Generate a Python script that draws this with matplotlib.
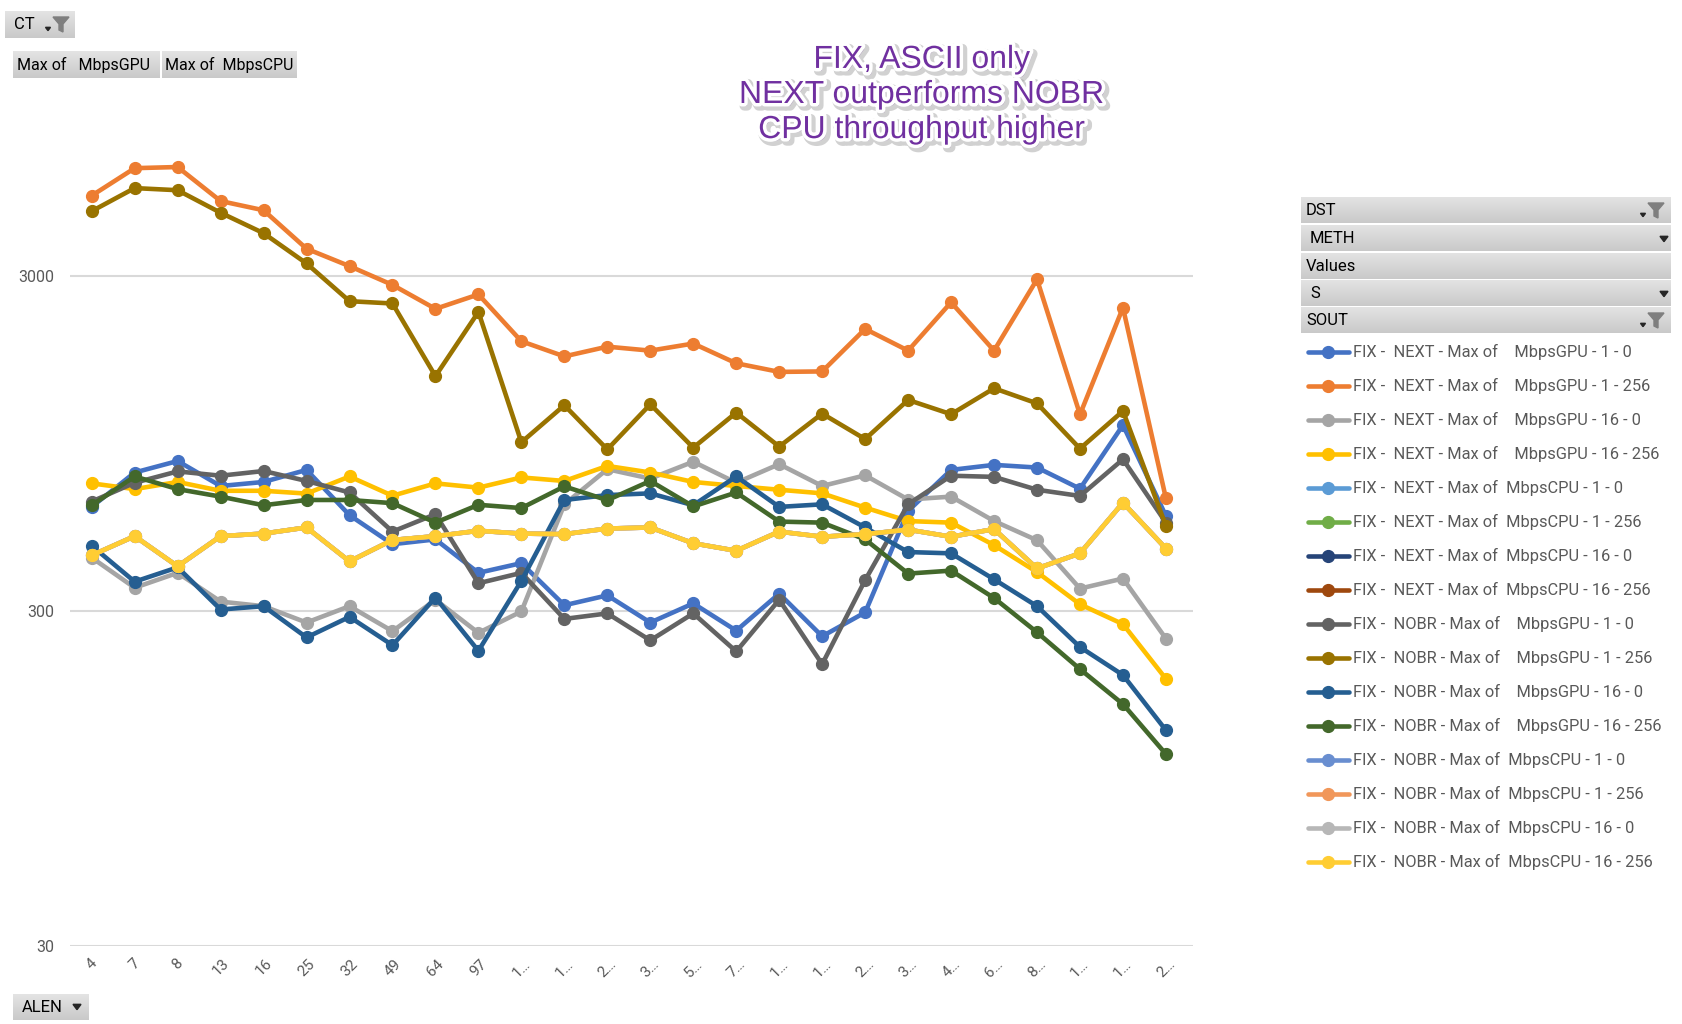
import matplotlib
matplotlib.use("Agg")
import matplotlib.pyplot as plt
import matplotlib.patheffects as pe
from matplotlib.patches import Polygon
from matplotlib.lines import Line2D
import numpy as np

W, H = 1682, 1024

alen_labels = ["4", "7", "8", "13", "16", "25", "32", "49", "64", "97",
               "1…", "1…", "2…", "3…", "5…", "7…", "1…", "1…", "2…", "3…",
               "4…", "6…", "8…", "1…", "1…", "2…"]

# Mbps
next_gpu_1_0 = [614, 778, 842, 709, 729, 792, 580, 475, 491, 390, 417, 312, 334,
                277, 316, 262, 338, 252, 297, 597, 792, 820, 805, 696, 1078, 577]
next_gpu_1_256 = [5230, 6320, 6370, 5040, 4730, 3630, 3220, 2830, 2400, 2650, 1920,
                  1730, 1850, 1800, 1890, 1650, 1555, 1560, 2090, 1800, 2510, 1800,
                  2940, 1160, 2420, 651]
next_gpu_16_0 = [433, 352, 390, 320, 310, 277, 310, 261, 324, 258, 299, 625, 796,
                 746, 838, 725, 824, 709, 763, 646, 659, 557, 488, 350, 375, 248]
next_gpu_16_256 = [722, 694, 729, 686, 686, 673, 757, 663, 722, 701, 752, 734, 814,
                   778, 729, 709, 691, 674, 611, 557, 551, 472, 392, 314, 274, 188]
nobr_gpu_1_0 = [637, 725, 784, 761, 786, 734, 678, 518, 584, 363, 390, 284, 295,
                245, 295, 227, 324, 208, 371, 625, 761, 755, 691, 662, 852, 551]
nobr_gpu_1_256 = [4700, 5510, 5430, 4650, 4040, 3280, 2530, 2490, 1510, 2350, 958,
                  1236, 912, 1244, 923, 1175, 930, 1167, 979, 1282, 1162, 1389, 1252,
                  917, 1188, 539]
nobr_gpu_16_0 = [470, 367, 405, 303, 310, 250, 288, 237, 329, 228, 369, 644, 666,
                 674, 621, 757, 614, 625, 533, 450, 446, 373, 310, 234, 193, 132]
nobr_gpu_16_256 = [621, 757, 694, 659, 621, 644, 644, 630, 551, 623, 609, 707, 643,
                   734, 616, 678, 555, 551, 491, 388, 396, 328, 259, 201, 158, 112]
nobr_cpu = [440, 502, 408, 502, 511, 533, 422, 489, 502, 521, 511, 509, 529, 533,
            478, 454, 518, 500, 509, 525, 500, 527, 402, 446, 632, 461]
next_cpu = []  # no points shown for NEXT CPU

series_labels = [
    "FIX -  NEXT - Max of    MbpsGPU - 1 - 0",
    "FIX -  NEXT - Max of    MbpsGPU - 1 - 256",
    "FIX -  NEXT - Max of    MbpsGPU - 16 - 0",
    "FIX -  NEXT - Max of    MbpsGPU - 16 - 256",
    "FIX -  NEXT - Max of  MbpsCPU - 1 - 0",
    "FIX -  NEXT - Max of  MbpsCPU - 1 - 256",
    "FIX -  NEXT - Max of  MbpsCPU - 16 - 0",
    "FIX -  NEXT - Max of  MbpsCPU - 16 - 256",
    "FIX -  NOBR - Max of    MbpsGPU - 1 - 0",
    "FIX -  NOBR - Max of    MbpsGPU - 1 - 256",
    "FIX -  NOBR - Max of    MbpsGPU - 16 - 0",
    "FIX -  NOBR - Max of    MbpsGPU - 16 - 256",
    "FIX -  NOBR - Max of  MbpsCPU - 1 - 0",
    "FIX -  NOBR - Max of  MbpsCPU - 1 - 256",
    "FIX -  NOBR - Max of  MbpsCPU - 16 - 0",
    "FIX -  NOBR - Max of  MbpsCPU - 16 - 256",
]
series_data = [next_gpu_1_0, next_gpu_1_256, next_gpu_16_0, next_gpu_16_256,
               next_cpu, next_cpu, next_cpu, next_cpu,
               nobr_gpu_1_0, nobr_gpu_1_256, nobr_gpu_16_0, nobr_gpu_16_256,
               nobr_cpu, nobr_cpu, nobr_cpu, nobr_cpu]
colors = ["#4472C4", "#ED7D31", "#A5A5A5", "#FFC000", "#5B9BD5", "#70AD47",
          "#264478", "#9E480E", "#636363", "#997300", "#255E91", "#43682B",
          "#698ED0", "#F1975A", "#B7B7B7", "#FFCD33"]

TXT = "#595959"
plt.rcParams['font.family'] = ['Roboto', 'DejaVu Sans']

fig = plt.figure(figsize=(W / 100, H / 100), dpi=100)


def fx(x):
    return x / W


def fy(y):
    return 1 - y / H


# plot area in pixels
left, right, top, bottom = 70, 1193, 101.5, 945.5
ax = fig.add_axes([fx(left), fy(bottom), fx(right - left), (bottom - top) / H])

x = np.arange(len(alen_labels))
for i, (lab, d, c) in enumerate(zip(series_labels, series_data, colors)):
    if len(d) == 0:
        continue
    ax.plot(x, d, color=c, lw=3.3, marker='o', ms=8.5, zorder=3 + i,
            solid_capstyle='round', solid_joinstyle='round')

ax.set_yscale('log')
ax.set_ylim(30, 10000)
ax.set_xlim(-0.505, 25.63)
ax.set_yticks([30, 300, 3000])
ax.set_yticklabels(["30", "300", "3000"])
ax.yaxis.set_minor_locator(matplotlib.ticker.NullLocator())
ax.set_xticks(x)
ax.set_xticklabels(alen_labels, rotation=45, ha='center', va='top')
ax.tick_params(axis='y', length=0, pad=11.5, labelsize=11.5, labelcolor=TXT)
ax.tick_params(axis='x', length=0, pad=8, labelsize=11, labelcolor=TXT)
ax.grid(axis='y', color='#d9d9d9', lw=1.5)
ax.set_axisbelow(True)
for s in ax.spines.values():
    s.set_visible(False)

# title box
fig.text(fx(922), fy(95), "FIX, ASCII only\nNEXT outperforms NOBR\nCPU throughput higher",
         ha='center', va='center', fontsize=23, color='#7030A0', linespacing=1.22,
         family=['Liberation Sans', 'DejaVu Sans'],
         path_effects=[pe.Stroke(linewidth=7, foreground='#9a9a9a', alpha=0.45, offset=(2, -2)),
                       pe.Stroke(linewidth=5, foreground='white'), pe.Normal()])


def button(x0, y0, x1, y1, label=None, tx=None, size=12, color='black'):
    bax = fig.add_axes([fx(x0), fy(y1), fx(x1 - x0), (y1 - y0) / H])
    grad = np.linspace(0, 1, 32).reshape(-1, 1)
    bax.imshow(grad, cmap=matplotlib.colors.LinearSegmentedColormap.from_list(
        'g', ['#e4e4e4', '#c9c9c9']), aspect='auto', extent=[0, 1, 0, 1], origin='upper')
    bax.set_axis_off()
    if label:
        fig.text(fx(tx if tx else x0 + 5), fy((y0 + y1) / 2), label, ha='left', va='center',
                 fontsize=size, color=color)


def arrow(xc, yc, s):
    pts = [(-s / 2, -s / 3), (s / 2, -s / 3), (0, s / 3)]
    fig.add_artist(Polygon([(fx(xc + a), fy(yc + b)) for a, b in pts], closed=True,
                           transform=fig.transFigure, color='#262626', zorder=20))


def funnel(xc, yc):
    pts = [(-8, -7), (8, -7), (2, 0), (2, 8), (-2, 6), (-2, 0)]
    fig.add_artist(Polygon([(fx(xc + a), fy(yc + b)) for a, b in pts], closed=True,
                           transform=fig.transFigure, color='#7f7f7f', zorder=20))
    arrow(xc - 13, yc + 5, 5)


# top-left pivot buttons
button(5, 11, 75, 38, "CT", tx=14, size=12)
funnel(61, 24)
button(13, 51, 160, 78, "Max of   MbpsGPU", tx=17, size=11.5)
button(162, 51, 296, 78, "Max of  MbpsCPU", tx=165, size=11.5)

# right field panel
rows = [("DST", 197, 'funnel', 1306), ("METH", 225, 'arrow', 1310),
        ("Values", 253, None, 1306), ("S", 280, 'arrow', 1310), ("SOUT", 307, 'funnel', 1306)]
for lab, y0, icon, tx in rows:
    button(1301, y0, 1671, y0 + 26.5, lab, tx=tx, size=12)
    if icon == 'funnel':
        funnel(1656, y0 + 13)
    elif icon == 'arrow':
        arrow(1664, y0 + 14, 8)

# legend
for i, (lab, c) in enumerate(zip(series_labels, colors)):
    yy = 352 + 34 * i
    fig.add_artist(Line2D([fx(1308), fx(1349)], [fy(yy), fy(yy)], color=c, lw=3.3,
                          transform=fig.transFigure, solid_capstyle='round'))
    fig.add_artist(Line2D([fx(1328)], [fy(yy)], color=c, marker='o', ms=8.5,
                          transform=fig.transFigure))
    fig.text(fx(1353), fy(yy), lab, ha='left', va='center', fontsize=11.8, color=TXT)

# ALEN button
button(13, 994, 89, 1020, "ALEN", tx=22, size=12)
arrow(77, 1007, 8)

fig.savefig("out.png", dpi=100)
